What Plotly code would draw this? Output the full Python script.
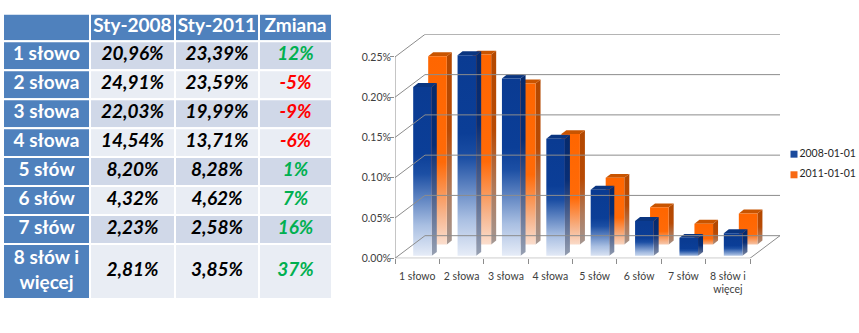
import plotly.graph_objects as go

# ---------------- data ----------------
categories = ["1 słowo", "2 słowa", "3 słowa", "4 słowa", "5 słów", "6 słów", "7 słów", "8 słów i więcej"]
axis_labels = ["1 słowo", "2 słowa", "3 słowa", "4 słowa", "5 słów", "6 słów", "7 słów", "8 słów i<br>więcej"]
table_row_labels = ["1 słowo", "2 słowa", "3 słowa", "4 słowa", "5 słów", "6 słów", "7 słów", "8 słów i<br>więcej"]
table_headers = ["", "Sty-2008", "Sty-2011", "Zmiana"]
share_2008 = [20.96, 24.91, 22.03, 14.54, 8.20, 4.32, 2.23, 2.81]
share_2011 = [23.39, 23.59, 19.99, 13.71, 8.28, 4.62, 2.58, 3.85]
change_pct = [12, -5, -9, -6, 1, 7, 16, 37]
series_names = ["2008-01-01", "2011-01-01"]
y_ticks = [0.0, 0.05, 0.10, 0.15, 0.20, 0.25]
y_tick_text = ["0.00%", "0.05%", "0.10%", "0.15%", "0.20%", "0.25%"]

# ---------------- geometry / style ----------------
W, H = 859, 333
FONT = "Lato"
X0PX, Y0PX = 395, 263          # front-left-bottom corner of the plot box
PPX, PPY = 44.375, 820.0       # pixels per x unit / per y unit
DEPTH_PX = (30, 23)
DXU, DYU = DEPTH_PX[0] / PPX, DEPTH_PX[1] / PPY
n = len(categories)
XR = [-0.5, n - 0.5 + DXU]
YR = [0, y_ticks[-1] + DYU]
X1PX = X0PX + PPX * (XR[1] - XR[0])
Y1PX = Y0PX - PPY * (YR[1] - YR[0])

BAR_W = 18.6 / PPX
BAR_DX, BAR_DY = 5 / PPX, 4 / PPY
GRID = "#8c8c8c"

# table layout (pixels)
COL_W = [87, 85, 84, 73]
TABLE_LEFT, TABLE_TOP = 3, 14
HEADER_H, ROW_H, ROW_H2 = 28, 29.5, 56
BLUE_CELL, DARK_CELL, LIGHT_CELL = "#4f81bd", "#d0d8e8", "#e9edf4"

series_style = {
    "2011-01-01": dict(ox=-0.09 + 15 / PPX, oy=14 / PPY,
                       front=[[0, "#fbe3d6"], [0.18, "#f6b48c"], [0.45, "#ff6a08"], [1, "#ff6600"]],
                       side=[[0, "#a39a98"], [0.3, "#b07a5a"], [0.6, "#b84a04"], [1, "#b34800"]],
                       top="#c85400", legend="#f86a12"),
    "2008-01-01": dict(ox=-0.09, oy=2.5 / PPY,
                       front=[[0, "#eef2fa"], [0.2, "#a9bfe2"], [0.5, "#1c4fa4"], [0.62, "#0b3e97"], [1, "#0a3b92"]],
                       side=[[0, "#9ca4b4"], [0.35, "#50648f"], [0.65, "#082e76"], [1, "#062a6c"]],
                       top="#0a3580", legend="#1a4a9c"),
}

fig = go.Figure()

# ---------------- table (drawn on a pixel-scaled helper axis pair x3/y3) ----------------
def fmt(v):
    return f"{v:.2f}%".replace(".", ",")

col_edges = [TABLE_LEFT]
for w in COL_W:
    col_edges.append(col_edges[-1] + w)
row_edges = [TABLE_TOP, TABLE_TOP + HEADER_H]
for lab in table_row_labels:
    row_edges.append(row_edges[-1] + (ROW_H2 if "<br>" in lab else ROW_H))
col_mid = [(col_edges[c] + col_edges[c + 1]) / 2 for c in range(4)]
row_mid = [(row_edges[r] + row_edges[r + 1]) / 2 for r in range(n + 1)]

shapes = []
for r in range(n + 1):
    for c in range(4):
        if r == 0 or c == 0:
            fill = BLUE_CELL
        else:
            fill = DARK_CELL if (r - 1) % 2 == 0 else LIGHT_CELL
        shapes.append(dict(type="rect", xref="x3", yref="y3", layer="below",
                           x0=col_edges[c], x1=col_edges[c + 1], y0=row_edges[r], y1=row_edges[r + 1],
                           fillcolor=fill, line=dict(color="white", width=2)))

columns = [
    ([f"<b>{lab}</b>" for lab in table_row_labels], ["white"] * n),
    ([f"<b><i>{fmt(v)}</i></b>" for v in share_2008], ["black"] * n),
    ([f"<b><i>{fmt(v)}</i></b>" for v in share_2011], ["black"] * n),
    ([f"<b><i>{c}%</i></b>" for c in change_pct], ["#00b050" if c >= 0 else "#ff0000" for c in change_pct]),
]
# header
fig.add_trace(go.Scatter(x=col_mid, y=[row_mid[0]] * 4, text=[f"<b>{h}</b>" for h in table_headers],
                         mode="text", textposition="middle center",
                         textfont=dict(family=FONT, size=19, color="white"),
                         xaxis="x3", yaxis="y3", hoverinfo="skip", showlegend=False))
for c, (txt, colr) in enumerate(columns):
    fig.add_trace(go.Scatter(x=[col_mid[c]] * n, y=row_mid[1:], text=txt,
                             mode="text", textposition="middle center",
                             textfont=dict(family=FONT, size=19, color=colr),
                             xaxis="x3", yaxis="y3", hoverinfo="skip", showlegend=False))

# ---------------- chart walls / grid ----------------
gx, gy = [], []
for t in y_ticks:
    gx += [-0.5, -0.5 + DXU, n - 0.5 + DXU, None]
    gy += [t, t + DYU, t + DYU, None]
gx += [-0.5, -0.5, None, -0.5, n - 0.5, n - 0.5 + DXU, None]
gy += [y_ticks[-1], 0, None, 0, 0, DYU, None]
fig.add_trace(go.Scatter(x=gx, y=gy, mode="lines", line=dict(color=GRID, width=1),
                         hoverinfo="skip", showlegend=False, xaxis="x2"))

# ---------------- 3D bars ----------------
values = {"2008-01-01": [v / 100 for v in share_2008], "2011-01-01": [v / 100 for v in share_2011]}
raw = {"2008-01-01": share_2008, "2011-01-01": share_2011}
for name in ["2011-01-01", "2008-01-01"]:
    st = series_style[name]
    for i, v in enumerate(values[name]):
        x0 = i + st["ox"]
        x1 = x0 + BAR_W
        y0 = st["oy"]
        y1 = v + st["oy"]
        fig.add_trace(go.Scatter(
            x=[x1, x1 + BAR_DX, x1 + BAR_DX, x1, x1], y=[y0, y0 + BAR_DY, y1 + BAR_DY, y1, y0],
            mode="none", fill="toself",
            fillgradient=dict(type="vertical", colorscale=st["side"], start=y0, stop=y1 + BAR_DY),
            hoverinfo="skip", showlegend=False))
        fig.add_trace(go.Scatter(
            x=[x0, x1, x1 + BAR_DX, x0 + BAR_DX, x0], y=[y1, y1, y1 + BAR_DY, y1 + BAR_DY, y1],
            mode="none", fill="toself", fillcolor=st["top"], hoverinfo="skip", showlegend=False))
        fig.add_trace(go.Scatter(
            x=[x0, x1, x1, x0, x0], y=[y0, y0, y1, y1, y0],
            mode="none", fill="toself",
            fillgradient=dict(type="vertical", colorscale=st["front"], start=y0, stop=y1),
            name=name, hovertemplate=f"{categories[i]}<br>{name}: {raw[name][i]}%<extra></extra>",
            showlegend=False))

# ---------------- legend (markers + text on helper axes) ----------------
LEG_X, LEG_Y0, LEG_DY = 794, 157, 21
fig.add_trace(go.Scatter(
    x=[LEG_X] * len(series_names), y=[LEG_Y0 + k * LEG_DY for k in range(len(series_names))],
    text=series_names, mode="markers+text", textposition="middle right",
    marker=dict(symbol="square", size=7, color=[series_style[s]["legend"] for s in series_names]),
    textfont=dict(family=FONT, size=10.5, color="#262626"),
    xaxis="x3", yaxis="y3", hoverinfo="skip", showlegend=False))

fig.update_layout(
    width=W, height=H, margin=dict(l=0, r=0, t=0, b=0),
    paper_bgcolor="white", plot_bgcolor="rgba(0,0,0,0)",
    font=dict(family=FONT, size=11, color="#404040"),
    showlegend=False,
    shapes=shapes,
    xaxis=dict(domain=[X0PX / W, X1PX / W], range=XR, tickvals=list(range(n)), ticktext=axis_labels,
               ticks="", showgrid=False, zeroline=False, showline=False, fixedrange=True,
               ticklabelstandoff=10, tickfont=dict(size=10.5, color="#404040")),
    xaxis2=dict(domain=[X0PX / W, X1PX / W], range=XR, overlaying="x", anchor="y", side="bottom",
                tickvals=[k - 0.5 for k in range(n + 1)], ticks="outside", ticklen=5, tickcolor=GRID,
                showticklabels=False, showgrid=False, zeroline=False, showline=False, fixedrange=True),
    yaxis=dict(domain=[1 - Y0PX / H, 1 - Y1PX / H], range=YR, tickvals=y_ticks, ticktext=y_tick_text,
               ticks="outside", ticklen=4, tickcolor=GRID, showgrid=False, zeroline=False,
               showline=False, fixedrange=True, ticklabelstandoff=-3,
               tickfont=dict(size=10.5, color="#404040")),
    xaxis3=dict(domain=[0, 1], range=[0, W], anchor="y3", visible=False, fixedrange=True),
    yaxis3=dict(domain=[0, 1], range=[H, 0], anchor="x3", visible=False, fixedrange=True),
)

fig.write_html("out.html")
